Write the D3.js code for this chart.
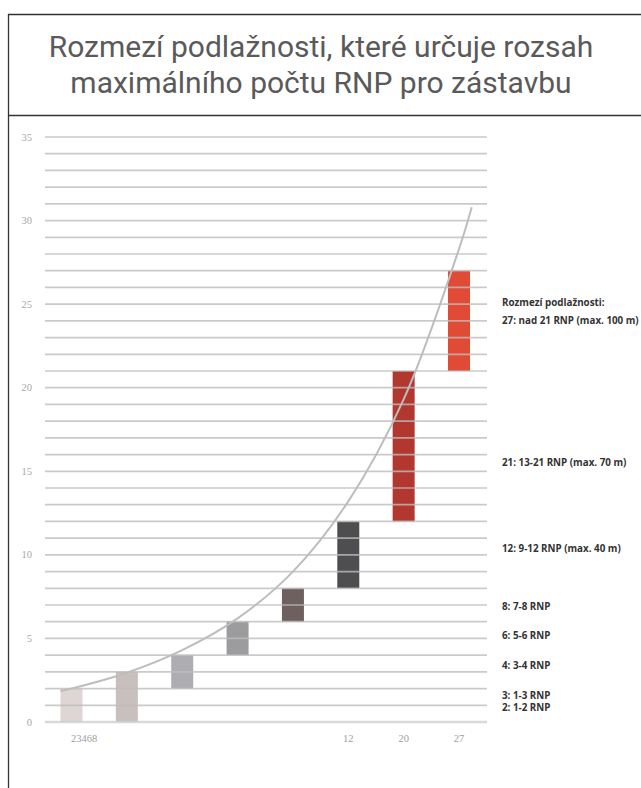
<!DOCTYPE html>
<html>
<head>
<meta charset="utf-8">
<script src="https://cdn.jsdelivr.net/npm/d3@7"></script>
<style>
  html, body { margin: 0; padding: 0; background: #fff; }
  svg { display: block; }
</style>
</head>
<body>
<div id="chart"></div>
<script>
// Floor-count ranges: each bar spans from its lower to its upper bound
const categories = ["2", "3", "4", "6", "8", "12", "20", "27"];
const barLow  = [0, 0, 2, 4, 6, 8, 12, 21];
const barHigh = [2, 3, 4, 6, 8, 12, 21, 27];
const barColors = ["#ddd6d4", "#c9bfbc", "#aeadb1", "#9c9b9d", "#6f6060", "#4e4e50", "#b2382f", "#e14b35"];

// x-axis labels (first one is printed as one run under the first bar)
const xTickLabels = ["23468", "", "", "", "", "12", "20", "27"];

// y-axis
const yTicks = [0, 5, 10, 15, 20, 25, 30, 35];

// Trend curve (category index, value)
const curveIdx = [-0.2, 0, 1, 2, 3, 4, 5, 6, 7, 7.23];
const curveVal = [1.85, 2.0, 2.95, 4.3, 6.2, 9.0, 13.2, 19.3, 28.3, 30.8];

// Range legend on the right
const legendTitle = "Rozmezí podlažnosti:";
const legendLabels = [
  "27: nad 21 RNP (max. 100 m)",
  "21: 13-21 RNP (max. 70 m)",
  "12: 9-12 RNP (max. 40 m)",
  "8: 7-8 RNP",
  "6: 5-6 RNP",
  "4: 3-4 RNP",
  "3: 1-3 RNP",
  "2: 1-2 RNP"
];
const legendAt = [24.0, 15.5, 10.4, 6.9, 5.2, 3.4, 1.6, 0.84];
const legendTitleAt = 25.1;

const titleLines = ["Rozmezí podlažnosti, které určuje rozsah", "maximálního počtu RNP pro zástavbu"];

const W = 641, H = 788;
const svg = d3.select("#chart").append("svg").attr("width", W).attr("height", H);

// Frame: title box and left rule
svg.append("line").attr("x1", 8).attr("x2", W).attr("y1", 14.5).attr("y2", 14.5)
  .attr("stroke", "#333").attr("stroke-width", 1.3);
svg.append("line").attr("x1", 8).attr("x2", W).attr("y1", 115.5).attr("y2", 115.5)
  .attr("stroke", "#333").attr("stroke-width", 1.3);
svg.append("line").attr("x1", 8.5).attr("x2", 8.5).attr("y1", 14).attr("y2", H)
  .attr("stroke", "#333").attr("stroke-width", 1.3);

svg.selectAll("text.title").data(titleLines).join("text")
  .attr("class", "title")
  .attr("x", 321).attr("y", (d, i) => 57 + i * 36)
  .attr("text-anchor", "middle")
  .attr("font-family", "Roboto, 'DejaVu Sans', sans-serif")
  .attr("font-size", 30)
  .attr("fill", "#5a5a5a")
  .text(d => d);

// Scales
const y = d3.scaleLinear().domain([0, 35]).range([722, 137]);
const x = d3.scaleLinear().domain([0, 7]).range([71.5, 459]);
const barW = 22;

// Bars
svg.append("g").selectAll("rect").data(categories).join("rect")
  .attr("x", (d, i) => x(i) - barW / 2)
  .attr("width", barW)
  .attr("y", (d, i) => y(barHigh[i]))
  .attr("height", (d, i) => y(barLow[i]) - y(barHigh[i]))
  .attr("fill", (d, i) => barColors[i]);

// Gridlines every unit, drawn over the bars
const grid = d3.range(0, 36);
svg.append("g").selectAll("line").data(grid).join("line")
  .attr("x1", 45).attr("x2", 487)
  .attr("y1", d => y(d)).attr("y2", d => y(d))
  .attr("stroke", d => d === 0 ? "#cfcfcf" : "#bdbdbd")
  .attr("stroke-opacity", 0.8)
  .attr("stroke-width", d => d === 0 ? 2.5 : 1.7);

// Trend curve
const pts = curveIdx.map((c, i) => [x(c), y(curveVal[i])]);
svg.append("path")
  .attr("d", d3.line().curve(d3.curveCatmullRom)(pts))
  .attr("fill", "none")
  .attr("stroke", "#bdbdbd")
  .attr("stroke-width", 2);

// Y axis labels
svg.append("g").selectAll("text").data(yTicks).join("text")
  .attr("x", 32).attr("y", d => y(d) + 3.5)
  .attr("text-anchor", "end")
  .attr("font-family", "'Liberation Serif', 'DejaVu Serif', serif")
  .attr("font-size", 10.5)
  .attr("fill", "#a8a8a8")
  .text(d => d);

// X axis labels
svg.append("g").selectAll("text").data(xTickLabels).join("text")
  .attr("x", (d, i) => i === 0 ? x(i) + 12.5 : x(i))
  .attr("y", 742)
  .attr("text-anchor", "middle")
  .attr("font-family", "'Liberation Serif', 'DejaVu Serif', serif")
  .attr("font-size", 10.5)
  .attr("fill", "#a0a0a0")
  .text(d => d);

// Range legend
const lg = svg.append("g")
  .attr("font-family", "'Open Sans', 'DejaVu Sans', sans-serif")
  .attr("font-weight", "bold")
  .attr("font-size", 9.8)
  .attr("fill", "#333");
lg.append("text").attr("x", 502).attr("y", y(legendTitleAt) + 3.5).text(legendTitle);
lg.selectAll("text.lab").data(legendLabels).join("text")
  .attr("class", "lab")
  .attr("x", 502).attr("y", (d, i) => y(legendAt[i]) + 3.5)
  .text(d => d);
</script>
</body>
</html>
